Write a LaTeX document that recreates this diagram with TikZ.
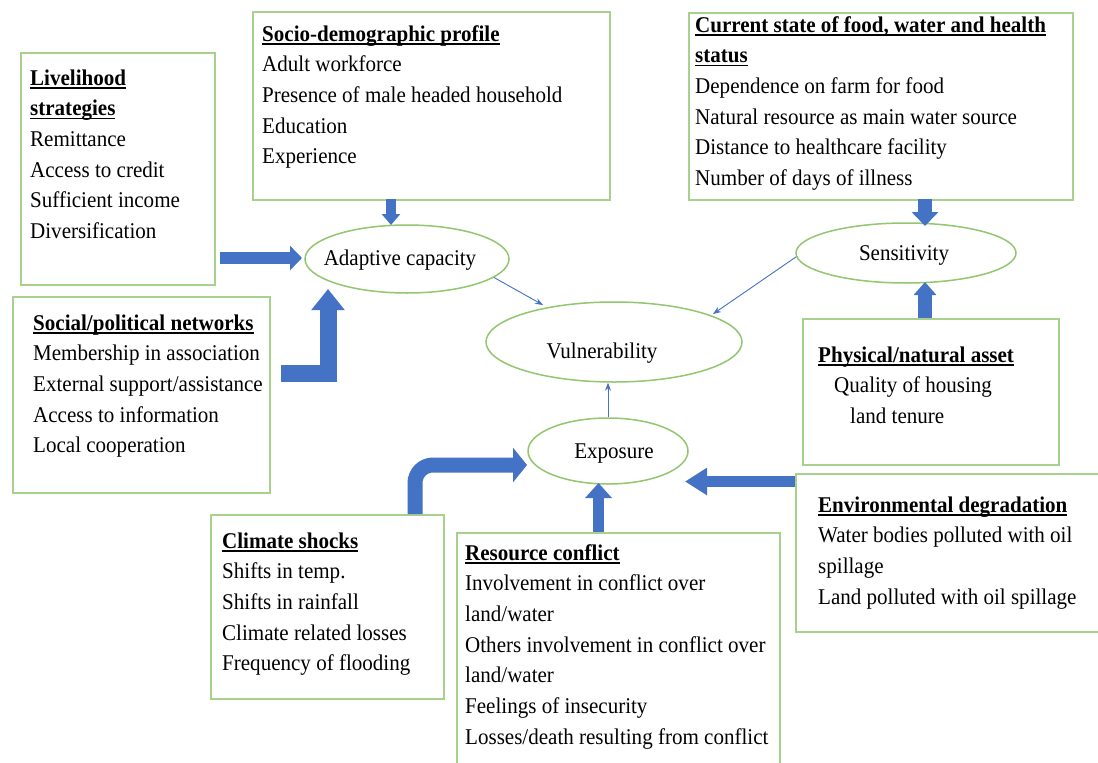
\documentclass[tikz,border=0pt]{standalone}
\usepackage{fontspec}
\setmainfont[FakeStretch=0.935]{Liberation Serif}
\usetikzlibrary{shapes.geometric,arrows.meta}
\definecolor{bxgreen}{HTML}{A9D18E}
\definecolor{elgreen}{HTML}{92C66F}
\definecolor{arblue}{HTML}{4472C4}
\newcommand\mytitle[1]{\setbox0\hbox{\textbf{#1}}\rlap{\rule[-3.5pt]{\wd0}{1.5pt}}\box0}
\newcommand\mylines[1]{\begin{tabular}[t]{@{}l@{}}#1\end{tabular}}
\begin{document}
\begin{tikzpicture}[x=1pt,y=-1pt,
  box/.style={draw=bxgreen, line width=1.5pt, inner sep=0pt, anchor=north west},
  txt/.style={anchor=base west, inner sep=0pt, font=\fontsize{22.5}{30.7}\selectfont},
  ell/.style={ellipse, draw=elgreen, line width=1.5pt, inner sep=0pt},
  eltxt/.style={anchor=base, inner sep=0pt, font=\fontsize{22.5}{27}\selectfont},
  thinarrow/.style={draw=arblue, line width=0.9pt, -{Stealth[length=8pt,width=6pt]}},
  blk/.style={draw=arblue, line join=miter}
]
\useasboundingbox (0,0) rectangle (1098,763);
\fill[white] (0,0) rectangle (1098,763);

% boxes
\node[box, minimum width=194pt, minimum height=232pt] (liveli) at (20,52) {};
\node[txt] (livelit) at (30,85) {\mylines{\mytitle{Livelihood}\\ \mytitle{strategies}\\ Remittance\\ Access to credit\\ Sufficient income\\ Diversification}};

\node[box, minimum width=357pt, minimum height=188pt] (socio) at (252,11) {};
\node[txt] (sociot) at (262,41) {\mylines{\mytitle{Socio-demographic profile}\\ Adult workforce\\ Presence of male headed household\\ Education\\ Experience}};

\node[box, minimum width=384pt, minimum height=187pt] (curr) at (688,12) {};
\node[txt] (currt) at (695,32) {\mylines{\mytitle{Current state of food, water and health}\\ \mytitle{status}\\ Dependence on farm for food\\ Natural resource as main water source\\ Distance to healthcare facility\\ Number of days of illness}};

\node[box, minimum width=257pt, minimum height=196pt] (social) at (12,296) {};
\node[txt] (socialt) at (33,330) {\mylines{\mytitle{Social/political networks}\\ Membership in association\\ External support/assistance\\ Access to information\\ Local cooperation}};

\node[box, minimum width=256pt, minimum height=146pt] (phys) at (802,318) {};
\node[txt] (physt) at (818,362) {\mylines{\mytitle{Physical/natural asset}\\ \hspace*{16pt}Quality of housing\\ \hspace*{32pt}land tenure}};

\node[box, minimum width=330pt, minimum height=158pt] (env) at (795,473) {};
\node[txt] (envt) at (818,512) {\mylines{\mytitle{Environmental degradation}\\ Water bodies polluted with oil\\ spillage\\ Land polluted with oil spillage}};

\node[box, minimum width=233pt, minimum height=184pt] (clim) at (210,514) {};
\node[txt] (climt) at (222,548) {\mylines{\mytitle{Climate shocks}\\ Shifts in temp.\\ Shifts in rainfall\\ Climate related losses\\ Frequency of flooding}};

\node[box, minimum width=323pt, minimum height=260pt] (res) at (456,532) {};
\node[txt] (rest) at (465,560) {\mylines{\mytitle{Resource conflict}\\ Involvement in conflict over\\ land/water\\ Others involvement in conflict over\\ land/water\\ Feelings of insecurity\\ Losses/death resulting from conflict}};

% ellipses
\node[ell, minimum width=204pt, minimum height=68pt] (adapt) at (407,259) {};
\node[eltxt] (adaptt) at (400,265) {Adaptive capacity};
\node[ell, minimum width=220pt, minimum height=60pt] (sens) at (906,253) {};
\node[eltxt] (senst) at (904,260) {Sensitivity};
\node[ell, minimum width=256pt, minimum height=80pt] (vul) at (614,342) {};
\node[eltxt] (vult) at (602,358) {Vulnerability};
\node[ell, minimum width=160pt, minimum height=66pt] (expo) at (608,451) {};
\node[eltxt] (expot) at (614,458) {Exposure};

% thin arrows
\coordinate (t1) at (543,305);
\coordinate (t2) at (713,314);
\draw[thinarrow] (adapt.-12.5) -- (t1);
\draw[thinarrow] (sens.182) -- (t2);
\draw[thinarrow] (expo.north) -- (expo.north |- vul.south);

% block arrows
\coordinate (b1s) at (220,258);
\coordinate (b1e) at (302,258);
\draw[blk, line width=12pt, -{Triangle[width=24pt,length=12pt]}] (b1s) -- (b1e);

\coordinate (b2s) at (391,199);
\coordinate (b2e) at (391,225);
\draw[blk, line width=10pt, -{Triangle[width=18pt,length=11pt]}] (b2s) -- (b2e);

\coordinate (b3s) at (281,373);
\coordinate (b3m) at (328,373);
\coordinate (b3e) at (328,289);
\draw[blk, line width=17pt, -{Triangle[width=32pt,length=21pt]}] (b3s) -- (b3m) -- (b3e);

\coordinate (b4s) at (415,514);
\coordinate (b4m) at (415,465);
\coordinate (b4e) at (527,465);
\draw[blk, line width=15pt, rounded corners=18pt, -{Triangle[width=34pt,length=14pt]}] (b4s) -- (b4m) -- (b4e);

\coordinate (b5s) at (598.5,532);
\coordinate (b5e) at (598.5,483);
\draw[blk, line width=11pt, -{Triangle[width=26pt,length=15pt]}] (b5s) -- (b5e);

\coordinate (b6s) at (795,481.5);
\coordinate (b6e) at (685,481.5);
\draw[blk, line width=11pt, -{Triangle[width=26pt,length=22pt]}] (b6s) -- (b6e);

\coordinate (b7s) at (925,199);
\coordinate (b7e) at (925,226);
\draw[blk, line width=14pt, -{Triangle[width=26pt,length=14pt]}] (b7s) -- (b7e);

\coordinate (b8s) at (925,318);
\coordinate (b8e) at (925,282);
\draw[blk, line width=14pt, -{Triangle[width=22pt,length=13pt]}] (b8s) -- (b8e);
\end{tikzpicture}
\end{document}
